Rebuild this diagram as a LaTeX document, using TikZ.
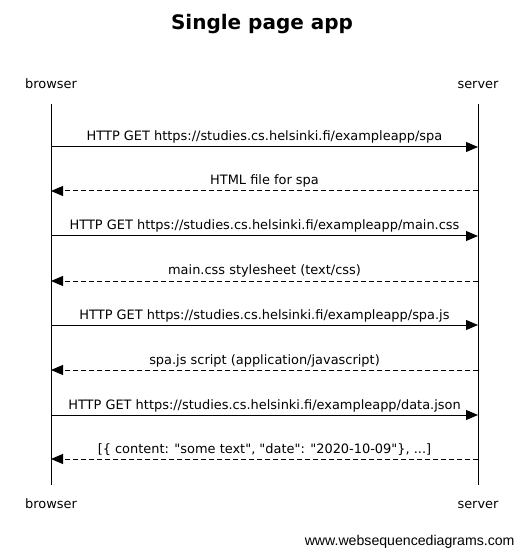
\documentclass[tikz,border=0pt]{standalone}
\usepackage{fontspec}
\setmainfont{DejaVu Sans}
\newfontfamily\wsdfont{Liberation Sans}
\usetikzlibrary{positioning,arrows.meta}

\begin{document}
\begin{tikzpicture}[x=0.75pt,y=-0.75pt,line width=0.75pt]
  \tikzset{msg/.style = {-{Triangle[length=9pt,width=7.5pt]}}, }
  \tikzset{reply/.style = {msg, dash pattern=on 3.75pt off 2.25pt}, }
  \tikzset{actor/.style = {anchor=base, inner sep=0pt, font=\fontsize{9.7}{11}\selectfont}, }
  \tikzset{msglabel/.style = {anchor=base, inner sep=0pt, yshift=4.5pt, font=\fontsize{9.7}{11}\selectfont}, }
  \useasboundingbox (0,0) rectangle (524,555);

  \node[anchor=base, font=\fontsize{15}{18}\selectfont\bfseries] (title) at (262,30) {Single page app};

  % participants
  \node[actor] (browser) at (51,89) {browser};
  \node[actor] (server) at (478,89) {server};
  \node[actor] (browser2) at (51,508) {browser};
  \node[actor] (server2) at (478,508) {server};

  % lifelines
  \coordinate (btop) at (51,104);
  \coordinate (bbot) at (51,485);
  \coordinate (stop) at (478,104);
  \coordinate (sbot) at (478,485);
  \draw (btop) -- (bbot);
  \draw (stop) -- (sbot);

  \foreach \i/\y in {1/147,2/191,3/236,4/281,5/325,6/370,7/415,8/459} {
    \coordinate (b\i) at (51,\y);
    \coordinate (s\i) at (478,\y);
  }

  \draw[msg] (b1) -- node[msglabel] {HTTP GET https://studies.cs.helsinki.fi/exampleapp/spa} (s1);
  \draw[reply] (s2) -- node[msglabel] {HTML file for spa} (b2);
  \draw[msg] (b3) -- node[msglabel] {HTTP GET https://studies.cs.helsinki.fi/exampleapp/main.css} (s3);
  \draw[reply] (s4) -- node[msglabel] {main.css stylesheet (text/css)} (b4);
  \draw[msg] (b5) -- node[msglabel] {HTTP GET https://studies.cs.helsinki.fi/exampleapp/spa.js} (s5);
  \draw[reply] (s6) -- node[msglabel] {spa.js script (application/javascript)} (b6);
  \draw[msg] (b7) -- node[msglabel] {HTTP GET https://studies.cs.helsinki.fi/exampleapp/data.json} (s7);
  \draw[reply] (s8) -- node[msglabel] {[\{ content: \textquotedbl some text\textquotedbl, \textquotedbl date\textquotedbl: \textquotedbl 2020-10-09\textquotedbl\}, ...]} (b8);

  \node[anchor=base east, inner sep=0pt, font=\wsdfont\fontsize{10.6}{12}\selectfont] (wsd) at (515,545) {www.websequencediagrams.com};
\end{tikzpicture}
\end{document}
